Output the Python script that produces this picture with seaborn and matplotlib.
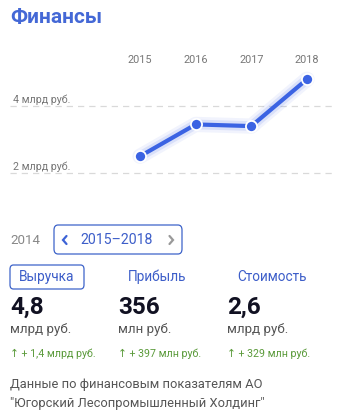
import matplotlib
matplotlib.use("Agg")
import matplotlib.pyplot as plt
from matplotlib.patches import FancyBboxPatch
from matplotlib.lines import Line2D
import matplotlib.transforms as mtrans
import seaborn as sns
import pandas as pd

# ---- data ----
years = [2015, 2016, 2017, 2018]
revenue = [2.5, 3.45, 3.4, 4.8]
ytick_vals = [2, 4]
ytick_labels = ["2 млрд руб.", "4 млрд руб."]
title = "Финансы"
prev_year = "2014"
period = "2015–2018"
metric_names = ["Выручка", "Прибыль", "Стоимость"]
metric_values = ["4,8", "356", "2,6"]
metric_units = ["млрд руб.", "млн руб.", "млрд руб."]
metric_changes = ["↑ + 1,4 млрд руб.", "↑ + 397 млн руб.", "↑ + 329 млн руб."]
footer = ["Данные по финансовым показателям АО",
          "\"Югорский Лесопромышленный Холдинг\""]

sns.set_theme(style="white")
plt.rcParams['font.family'] = ['Roboto', 'DejaVu Sans']

W, H = 339, 419
fig = plt.figure(figsize=(W / 100, H / 100), dpi=100)
fig.patch.set_facecolor("white")

def fx(x):
    return x / W

def fy(y):
    return 1 - y / H

BLUE = "#3b63e3"
GRAY = "#777777"

# ---- chart axes ----
ax_l, ax_r, ax_t, ax_b = 10, 335, 66, 195
ax = fig.add_axes([fx(ax_l), fy(ax_b), fx(ax_r - ax_l), (ax_b - ax_t) / H])
df = pd.DataFrame({"year": years, "value": revenue})
# glow
sns.lineplot(data=df, x="year", y="value", ax=ax, color=BLUE, lw=11, alpha=0.07)
sns.lineplot(data=df, x="year", y="value", ax=ax, color=BLUE, lw=7, alpha=0.13)
sns.lineplot(data=df, x="year", y="value", ax=ax, color=BLUE, lw=3,
             marker="o", markersize=8, markeredgecolor="white",
             markeredgewidth=1.3)

px_per_year = 55.67
ax.set_xlim(2015 - (140 - ax_l) / px_per_year, 2018 + (ax_r - 307) / px_per_year)
px_per_unit = 33.5
ax.set_ylim(2 - (ax_b - 173) / px_per_unit, 4 + (106 - ax_t) / px_per_unit)

for v, lab in zip(ytick_vals, ytick_labels):
    ax.axhline(v, color="#d9d9d9", lw=0.9, ls=(0, (5, 4)), zorder=0)
    trans = mtrans.blended_transform_factory(ax.transAxes, ax.transData)
    ax.text(3 / (ax_r - ax_l), v + 6 / px_per_unit, lab, transform=trans,
            fontsize=7.7, color=GRAY, ha="left", va="center")

ax.set_xticks(years)
ax.set_xticklabels([str(y) for y in years])
ax.xaxis.tick_top()
ax.tick_params(axis="x", length=0, pad=0.5, labelsize=7.8, labelcolor=GRAY)
ax.set_yticks([])
ax.set_xlabel("")
ax.set_ylabel("")
for s in ax.spines.values():
    s.set_visible(False)
ax.patch.set_alpha(0)

# ---- title ----
fig.text(fx(10), fy(17.5), title, fontsize=15, fontweight="bold",
         color="#4468d6", ha="left", va="center")

# ---- period selector ----
fig.text(fx(10), fy(240), prev_year, fontsize=9.6, color="#888888",
         ha="left", va="center")
box = FancyBboxPatch((fx(54), fy(254)), fx(128), (254 - 225) / H,
                     boxstyle="round,pad=0,rounding_size=0.012",
                     transform=fig.transFigure, fill=False,
                     edgecolor="#3d63c9", lw=0.9)
fig.patches.append(box)
# chevrons
fig.add_artist(Line2D([fx(66.5), fx(63), fx(66.5)], [fy(236), fy(240), fy(244)],
                      transform=fig.transFigure, color="#3d63d6", lw=1.6,
                      solid_capstyle="round", solid_joinstyle="miter"))
fig.add_artist(Line2D([fx(169.5), fx(173), fx(169.5)], [fy(236), fy(240), fy(244)],
                      transform=fig.transFigure, color="#999999", lw=1.6,
                      solid_capstyle="round", solid_joinstyle="miter"))
fig.text(fx(117), fy(240), period, fontsize=10.2, color="#3d5ec9", ha="center",
         va="center")

# ---- metrics ----
tab_centers = [47, 157, 272]
box2 = FancyBboxPatch((fx(10), fy(289)), fx(74), (289 - 265) / H,
                      boxstyle="round,pad=0,rounding_size=0.010",
                      transform=fig.transFigure, fill=False,
                      edgecolor="#3d63c9", lw=0.9)
fig.patches.append(box2)
for cx, name in zip(tab_centers, metric_names):
    fig.text(fx(cx), fy(277), name, fontsize=9.8, color="#3d5ec9",
             ha="center", va="center")

col_x = [10, 118, 227]
for x, val, unit, ch in zip(col_x, metric_values, metric_units, metric_changes):
    fig.text(fx(x), fy(307), val, fontsize=17.5, fontweight="bold",
             color="#111122", ha="left", va="center")
    fig.text(fx(x), fy(329), unit, fontsize=9.6, color="#555555",
             ha="left", va="center")
    fig.text(fx(x), fy(354), ch, fontsize=7.7, color="#5a9a3a",
             ha="left", va="center")

fig.text(fx(10), fy(384), footer[0], fontsize=9.3, color="#555555",
         ha="left", va="center")
fig.text(fx(10), fy(403), footer[1], fontsize=9.3, color="#555555",
         ha="left", va="center")

fig.savefig("out.png", dpi=100, facecolor="white")
